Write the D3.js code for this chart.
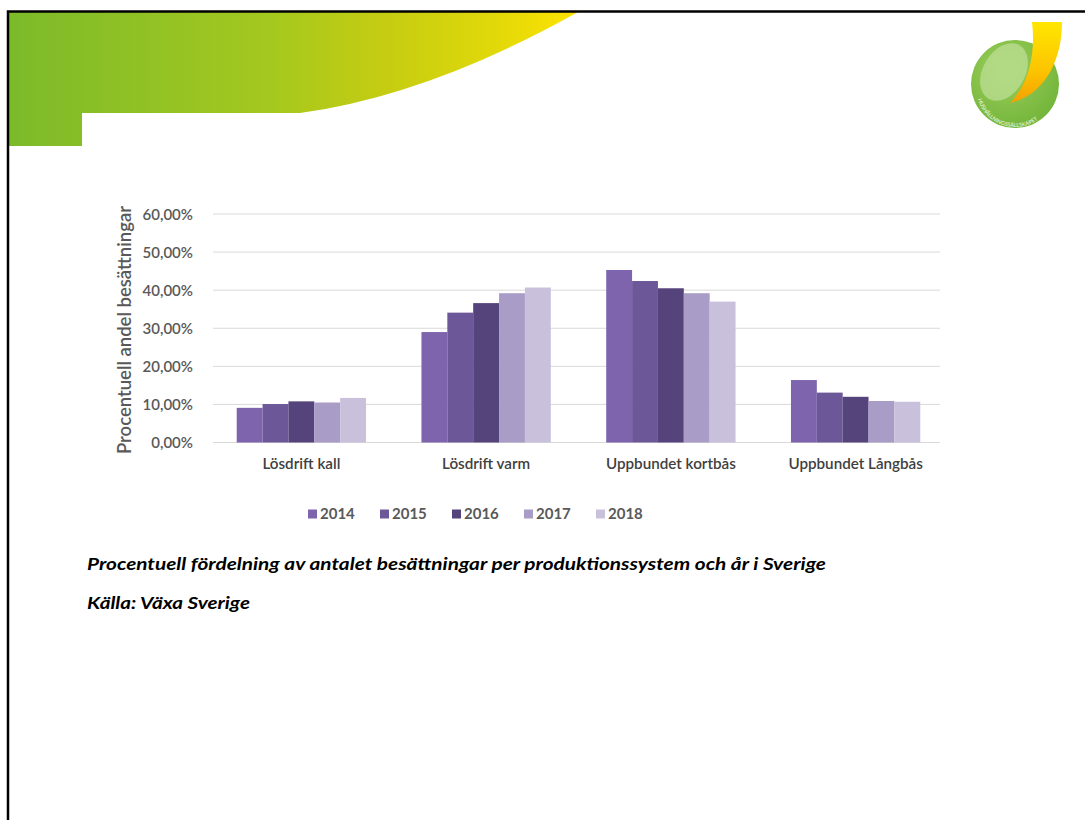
<!DOCTYPE html>
<html>
<head>
<meta charset="utf-8">
<script src="https://cdn.jsdelivr.net/npm/d3@7"></script>
<style>
  html, body { margin: 0; padding: 0; background: #fff; }
  svg { display: block; }
</style>
</head>
<body>
<svg id="chart" width="1085" height="820"></svg>
<script>
// ---- Data ----
const categories = ["Lösdrift kall", "Lösdrift varm", "Uppbundet kortbås", "Uppbundet Långbås"];
const years = ["2014", "2015", "2016", "2017", "2018"];
const values2014 = [9.1, 29.0, 45.3, 16.4];
const values2015 = [10.1, 34.1, 42.4, 13.1];
const values2016 = [10.8, 36.6, 40.5, 12.0];
const values2017 = [10.5, 39.2, 39.2, 10.9];
const values2018 = [11.7, 40.7, 37.0, 10.7];
const yTicks = [0, 10, 20, 30, 40, 50, 60];
const colors = ["#7e63ad", "#6c5898", "#55437b", "#a99cc6", "#c9c1dc"];
const yTitle = "Procentuell andel besättningar";
const caption1 = "Procentuell fördelning av antalet besättningar per produktionssystem och år i Sverige";
const caption2 = "Källa: Växa Sverige";
const logoText = "HUSHÅLLNINGSSÄLLSKAPET";

const seriesValues = [values2014, values2015, values2016, values2017, values2018];

const svg = d3.select("#chart");
const defs = svg.append("defs");

// ---- Banner ----
const bg = defs.append("linearGradient").attr("id", "bannerGrad")
  .attr("x1", "0%").attr("x2", "100%").attr("y1", "0%").attr("y2", "0%");
bg.append("stop").attr("offset", "0%").attr("stop-color", "#7cba2a");
bg.append("stop").attr("offset", "45%").attr("stop-color", "#a3c81f");
bg.append("stop").attr("offset", "65%").attr("stop-color", "#c3cc12");
bg.append("stop").attr("offset", "85%").attr("stop-color", "#e0d80a");
bg.append("stop").attr("offset", "100%").attr("stop-color", "#ffe300");

svg.append("path")
  .attr("d", "M8,12 L578,12 Q430,95 300,113 L82,113 L82,146 L8,146 Z")
  .attr("fill", "url(#bannerGrad)");

// slide border
svg.append("path")
  .attr("d", "M8,820 L8,11.5 L1085,11.5")
  .attr("fill", "none").attr("stroke", "#000").attr("stroke-width", 2.5);

// ---- Logo ----
const lg = defs.append("radialGradient").attr("id", "logoGrad")
  .attr("cx", "40%").attr("cy", "35%").attr("r", "70%");
lg.append("stop").attr("offset", "0%").attr("stop-color", "#9ccf5c");
lg.append("stop").attr("offset", "100%").attr("stop-color", "#72b43a");
const yg = defs.append("linearGradient").attr("id", "yelGrad")
  .attr("x1", "0%").attr("x2", "0%").attr("y1", "0%").attr("y2", "100%");
yg.append("stop").attr("offset", "0%").attr("stop-color", "#ffe600");
yg.append("stop").attr("offset", "60%").attr("stop-color", "#fcc400");
yg.append("stop").attr("offset", "100%").attr("stop-color", "#f5a000");

const logo = svg.append("g");
logo.append("circle").attr("cx", 1015).attr("cy", 84).attr("r", 44).attr("fill", "url(#logoGrad)");
logo.append("ellipse").attr("cx", 1004).attr("cy", 72).attr("rx", 21).attr("ry", 31)
  .attr("fill", "#b9dc90").attr("opacity", 0.8)
  .attr("transform", "rotate(30,1004,72)");
logo.append("path")
  .attr("d", "M1032,22 L1062,22 C1062,60 1045,95 1010,103 C1028,85 1036,55 1032,22 Z")
  .attr("fill", "url(#yelGrad)");
defs.append("path").attr("id", "logoArc")
  .attr("d", "M977,96 A39,39 0 0 0 1054,92");
logo.append("text")
  .attr("font-family", "Lato, sans-serif").attr("font-size", 5.5).attr("fill", "#f4fbe8")
  .append("textPath").attr("href", "#logoArc").attr("startOffset", "3%").text(logoText);

// ---- Chart ----
const x0 = d3.scaleBand().domain(categories).range([209, 948]).paddingInner(0.30).paddingOuter(0.15);
const x1 = d3.scaleBand().domain(years).range([0, x0.bandwidth()]).padding(0);
const y = d3.scaleLinear().domain([0, 60]).range([442.5, 214]);

// gridlines
svg.append("g").selectAll("line").data(yTicks).join("line")
  .attr("x1", 213).attr("x2", 940)
  .attr("y1", d => y(d)).attr("y2", d => y(d))
  .attr("stroke", "#d9d9d9").attr("stroke-width", 1);

// y-axis labels
const yAxis = d3.axisLeft(y).tickValues(yTicks)
  .tickFormat(d => d3.format(".2f")(d).replace(".", ",") + "%")
  .tickSize(0).tickPadding(0);
const ya = svg.append("g").attr("transform", "translate(193,0)").call(yAxis);
ya.select(".domain").remove();
ya.selectAll("text")
  .attr("font-family", "Lato, sans-serif").attr("font-size", 15).attr("font-weight", 600)
  .attr("fill", "#595959").attr("dy", "0.35em");

// y title
svg.append("text")
  .attr("transform", "translate(131,330) rotate(-90)")
  .attr("text-anchor", "middle")
  .attr("font-family", "Lato, sans-serif").attr("font-size", 18.5).attr("font-weight", 600)
  .attr("fill", "#595959").text(yTitle);

// bars
const groups = svg.append("g").selectAll("g").data(categories).join("g")
  .attr("transform", d => `translate(${x0(d)},0)`);
groups.selectAll("rect")
  .data((c, ci) => years.map((yr, si) => ({ yr, si, v: seriesValues[si][ci] })))
  .join("rect")
  .attr("x", d => x1(d.yr))
  .attr("y", d => y(d.v))
  .attr("width", x1.bandwidth())
  .attr("height", d => y(0) - y(d.v))
  .attr("fill", d => colors[d.si]);

// x axis labels
const xAxis = d3.axisBottom(x0).tickSize(0).tickPadding(0);
const xa = svg.append("g").attr("transform", "translate(0,458)").call(xAxis);
xa.select(".domain").remove();
xa.selectAll("text")
  .attr("font-family", "Lato, sans-serif").attr("font-size", 15.2).attr("font-weight", 600)
  .attr("fill", "#404040").attr("dy", "0.71em");

// legend
const legendX = d3.scalePoint().domain(years).range([308, 596]);
const leg = svg.append("g").selectAll("g").data(years).join("g")
  .attr("transform", d => `translate(${legendX(d)},514)`);
leg.append("rect").attr("x", 0).attr("y", -4.5).attr("width", 9).attr("height", 9)
  .attr("fill", (d, i) => colors[i]);
leg.append("text").attr("x", 12).attr("dy", "0.35em")
  .attr("font-family", "Lato, sans-serif").attr("font-size", 15).attr("font-weight", 700)
  .attr("fill", "#595959").text(d => d);

// captions
svg.append("text").attr("x", 87).attr("y", 570)
  .attr("font-family", "Lato, sans-serif").attr("font-size", 17.5).attr("font-weight", 700)
  .attr("font-style", "italic").attr("fill", "#000")
  .attr("textLength", 739).attr("lengthAdjust", "spacingAndGlyphs").text(caption1);
svg.append("text").attr("x", 87).attr("y", 609)
  .attr("font-family", "Lato, sans-serif").attr("font-size", 17.5).attr("font-weight", 700)
  .attr("font-style", "italic").attr("fill", "#000")
  .attr("textLength", 163).attr("lengthAdjust", "spacingAndGlyphs").text(caption2);
</script>
</body>
</html>
